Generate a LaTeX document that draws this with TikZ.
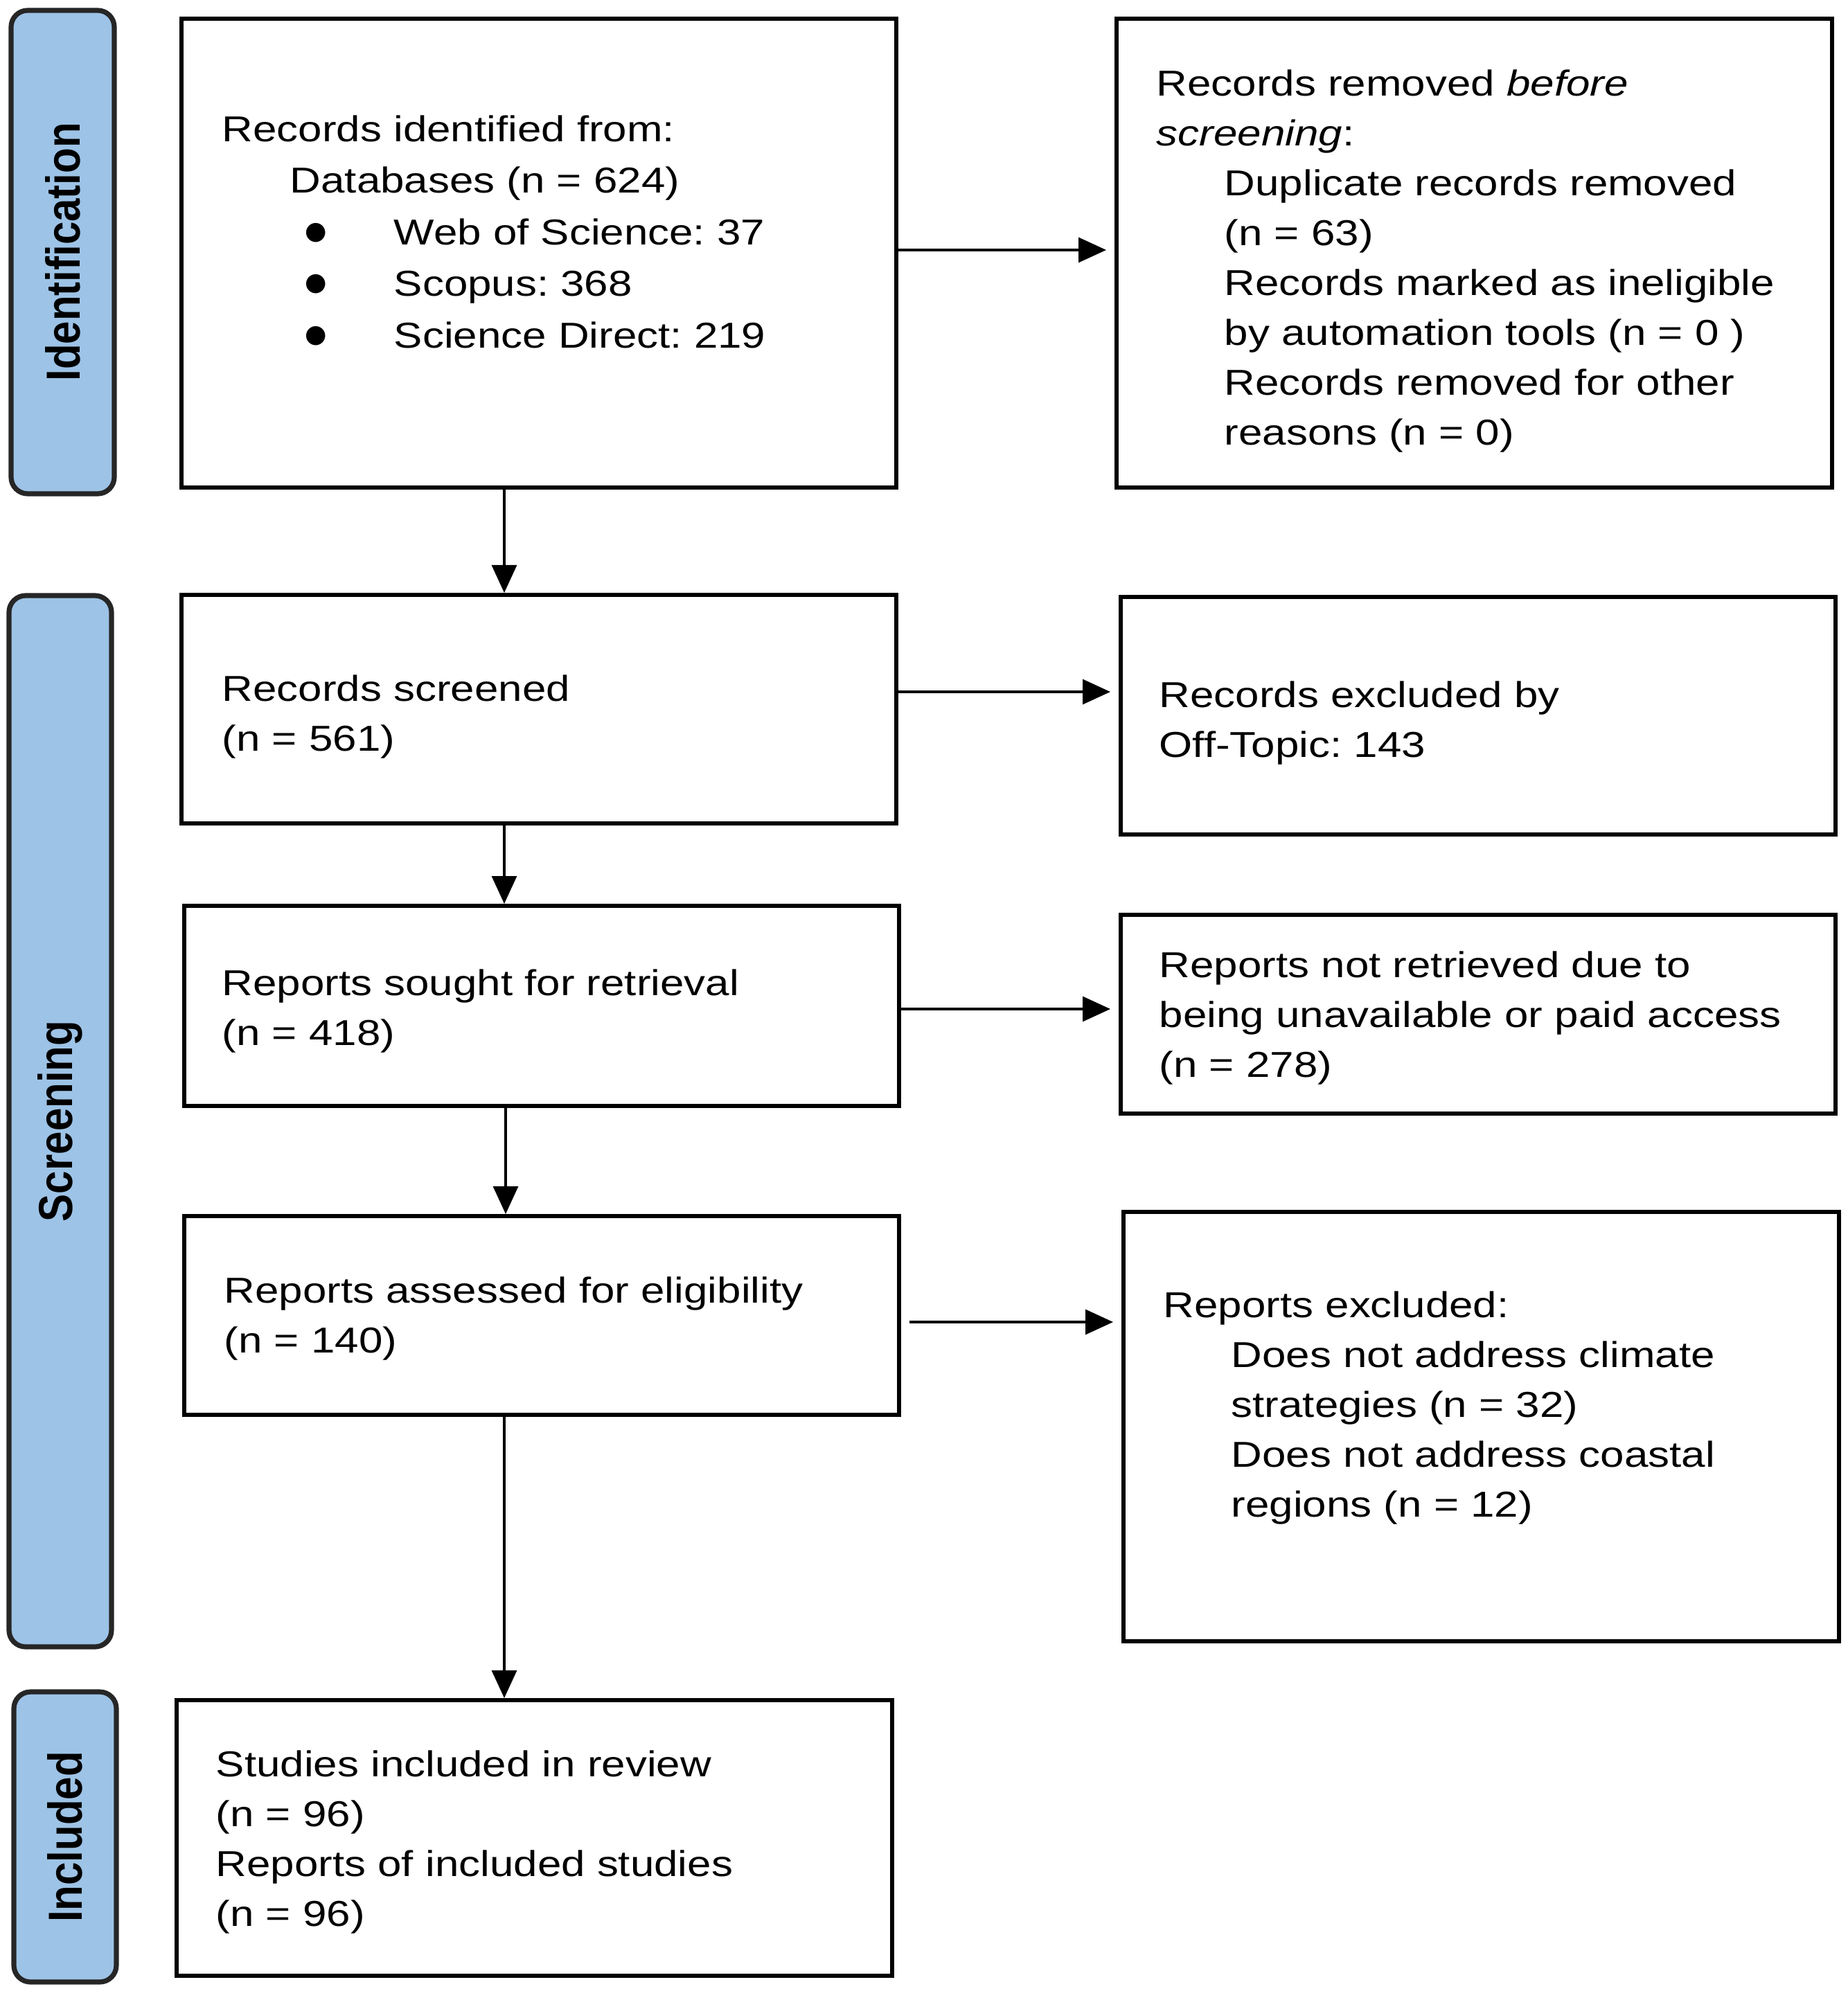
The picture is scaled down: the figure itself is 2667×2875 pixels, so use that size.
\documentclass[tikz,border=0pt]{standalone}
\usepackage{fontspec}
\setmainfont{Liberation Sans}[FakeStretch=1.19]
\newfontfamily\sidefont{Liberation Sans}
\newfontfamily\symfont{DejaVu Sans}
\usepackage{graphicx}
\usetikzlibrary{arrows.meta,fit,calc}
\definecolor{barblue}{HTML}{9DC3E6}
\frenchspacing
\newcommand{\ind}{\hspace*{24.5pt}}
\newcommand{\bul}{\hspace*{27.75pt}\makebox[12pt][c]{\raisebox{2pt}{\symfont\fontsize{9pt}{9pt}\selectfont ●}}\hspace*{22.25pt}}
\begin{document}
\begin{tikzpicture}[x=0.25pt,y=-0.25pt,
  box/.style={draw, line width=1.5pt, inner sep=0pt, fill=white},
  bar/.style={draw=black!85, fill=barblue, line width=1.8pt, rounded corners=6pt, inner sep=0pt},
  txt/.style={anchor=north west, inner sep=0pt, align=left, font=\frenchspacing\fontsize{13pt}{18pt}\selectfont},
  side/.style={rotate=90, inner sep=0pt, font=\sidefont\bfseries\fontsize{15pt}{18pt}\selectfont},
  varr/.style={-{Triangle[length=10pt,width=9pt]}, line width=0.8pt},
  harr/.style={-{Triangle[length=10pt,width=9pt]}, line width=0.8pt, shorten >=3pt}
]
\useasboundingbox (0,0) rectangle (2667,2875);

% side bars
\node[bar, fit={(16,15) (165,713)}] (bar1) {};
\node[bar, fit={(13,860) (161,2378)}] (bar2) {};
\node[bar, fit={(20,2443) (168,2862)}] (bar3) {};
\node[side] (l1) at (bar1.center) {\scalebox{1}[1.15]{Identification}};
\node[side] (l2) at (bar2.center) {\scalebox{1}[1.15]{Screening}};
\node[side] (l3) at (bar3.center) {\scalebox{1}[1.15]{Included}};

% boxes
\node[box, fit={(262,27) (1294,704)}] (box1) {};
\node[box, fit={(1612,27) (2645,704)}] (box2) {};
\node[box, fit={(262,859) (1294,1189)}] (box3) {};
\node[box, fit={(1618,862) (2650,1205)}] (box4) {};
\node[box, fit={(266,1308) (1298,1597)}] (box5) {};
\node[box, fit={(1618,1321) (2650,1608)}] (box6) {};
\node[box, fit={(266,1756) (1298,2043)}] (box7) {};
\node[box, fit={(1622,1750) (2655,2370)}] (box8) {};
\node[box, fit={(255,2455) (1288,2853)}] (box9) {};

% texts
\node[txt, font=\frenchspacing\fontsize{13pt}{18.6pt}\selectfont] (t1) at (320,166) {Records identified from:\\
\ind Databases (n = 624)\\
\bul Web of Science: 37\\
\bul Scopus: 368\\
\bul Science Direct: 219};
\node[txt] (t2) at (1669,100) {Records removed \textit{before}\\
\textit{screening}:\\
\ind Duplicate records removed\\
\ind (n = 63)\\
\ind Records marked as ineligible\\
\ind by automation tools (n = 0 )\\
\ind Records removed for other\\
\ind reasons (n = 0)};
\node[txt] (t3) at (320,974) {Records screened\\(n = 561)};
\node[txt] (t4) at (1673,983) {Records excluded by\\Off-Topic: 143};
\node[txt] (t5) at (320,1399) {Reports sought for retrieval\\(n = 418)};
\node[txt] (t6) at (1673,1373) {Reports not retrieved due to\\being unavailable or paid access\\(n = 278)};
\node[txt] (t7) at (323,1843) {Reports assessed for eligibility\\(n = 140)};
\node[txt] (t8) at (1679,1864) {Reports excluded:\\
\ind Does not address climate\\
\ind strategies (n = 32)\\
\ind Does not address coastal\\
\ind regions (n = 12)};
\node[txt] (t9) at (311,2527) {Studies included in review\\(n = 96)\\Reports of included studies\\(n = 96)};

% connector guides
\coordinate (v1) at (728,0);
\coordinate (v2) at (730,0);
\coordinate (h1) at (0,361);
\coordinate (h2) at (0,999);
\coordinate (h3) at (0,1457);
\coordinate (h4) at (0,1909);

% vertical arrows
\draw[varr] (box1.south -| v1) -- (box3.north -| v1);
\draw[varr] (box3.south -| v1) -- (box5.north -| v1);
\draw[varr] (box5.south -| v2) -- (box7.north -| v2);
\draw[varr] (box7.south -| v1) -- (box9.north -| v1);

% horizontal arrows
\draw[harr] (box1.east |- h1) -- (box2.west |- h1);
\draw[harr] (box3.east |- h2) -- (box4.west |- h2);
\draw[harr] (box5.east |- h3) -- (box6.west |- h3);
\draw[harr, shorten <=3pt] (box7.east |- h4) -- (box8.west |- h4);
\end{tikzpicture}
\end{document}
